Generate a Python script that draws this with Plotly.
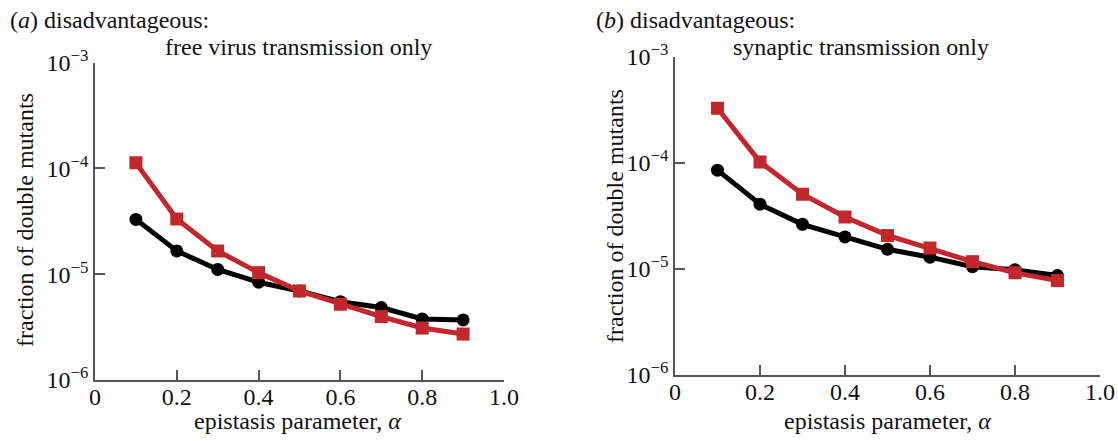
import plotly.graph_objects as go

alpha = [0.1, 0.2, 0.3, 0.4, 0.5, 0.6, 0.7, 0.8, 0.9]

a_black = [3.30e-5, 1.66e-5, 1.11e-5, 8.4e-6, 6.95e-6, 5.5e-6, 4.84e-6, 3.78e-6, 3.70e-6]
a_red = [1.13e-4, 3.33e-5, 1.66e-5, 1.035e-5, 6.95e-6, 5.2e-6, 3.98e-6, 3.1e-6, 2.72e-6]

b_black = [8.53e-5, 4.07e-5, 2.63e-5, 2.0e-5, 1.53e-5, 1.29e-5, 1.05e-5, 9.8e-6, 8.67e-6]
b_red = [3.27e-4, 1.02e-4, 5.06e-5, 3.08e-5, 2.07e-5, 1.57e-5, 1.17e-5, 9.2e-6, 7.76e-6]

x_tickvals = [0, 0.2, 0.4, 0.6, 0.8, 1.0]
x_ticktext = ["0", "0.2", "0.4", "0.6", "0.8", "1.0"]
y_tickvals = [1e-6, 1e-5, 1e-4, 1e-3]
y_ticktext = ["10<sup>−6</sup>", "10<sup>−5</sup>", "10<sup>−4</sup>", "10<sup>−3</sup>"]

RED = "#C1272D"
BLACK = "#000000"
AX = "#555555"
TXT = "#111111"
FONT = "Liberation Serif"
FS = 24

fig = go.Figure()

def add_series(xa, ya, black, red):
    fig.add_trace(go.Scatter(x=alpha, y=black, mode="lines+markers", xaxis=xa, yaxis=ya,
                             line=dict(color=BLACK, width=5),
                             marker=dict(symbol="circle", size=13, color=BLACK),
                             showlegend=False))
    fig.add_trace(go.Scatter(x=alpha, y=red, mode="lines+markers", xaxis=xa, yaxis=ya,
                             line=dict(color=RED, width=5),
                             marker=dict(symbol="square", size=13, color=RED),
                             showlegend=False))

add_series("x", "y", a_black, a_red)
add_series("x2", "y2", b_black, b_red)

W, H = 1118, 441

def xdom(l, r):
    return [l / W, r / W]

def ydom(top, bottom):
    return [(H - bottom) / H, (H - top) / H]

xcommon = dict(range=[0, 1.0], tickvals=x_tickvals, ticktext=x_ticktext,
               showline=True, linecolor=AX, linewidth=1.5, ticks="inside", ticklen=10,
               tickcolor=AX, tickwidth=1.5, showgrid=False, zeroline=False, automargin=False,
               ticklabelstandoff=-6,
               tickfont=dict(family=FONT, size=FS, color=TXT))
ycommon = dict(type="log", range=[-6, -3], tickvals=y_tickvals, ticktext=y_ticktext,
               showline=True, linecolor=AX, linewidth=1.5, ticks="inside", ticklen=10,
               tickcolor=AX, tickwidth=1.5, showgrid=False, zeroline=False, automargin=False,
               tickfont=dict(family=FONT, size=FS, color=TXT))

fig.update_layout(
    width=W, height=H,
    margin=dict(l=0, r=0, t=0, b=0),
    paper_bgcolor="white", plot_bgcolor="white",
    xaxis=dict(domain=xdom(95, 504), anchor="y", **xcommon),
    yaxis=dict(domain=ydom(62.7, 380), anchor="x", **ycommon),
    xaxis2=dict(domain=xdom(675, 1100), anchor="y2", **xcommon),
    yaxis2=dict(domain=ydom(56.7, 375), anchor="x2", **ycommon),
)

def ann(text, x, y, xanchor="left", angle=0):
    fig.add_annotation(text=text, x=x / W, y=(H - y) / H, xref="paper", yref="paper",
                       xanchor=xanchor, yanchor="middle", showarrow=False, textangle=angle,
                       font=dict(family=FONT, size=FS, color=TXT))

ann("(<i>a</i>) disadvantageous:", 8, 20)
ann("free virus transmission only", 298, 47, "center")
ann("(<i>b</i>) disadvantageous:", 594, 20)
ann("synaptic transmission only", 861, 47, "center")
ann("epistasis parameter, <i>α</i>", 297, 421, "center")
ann("epistasis parameter, <i>α</i>", 887, 421, "center")
ann("fraction of double mutants", 25, 220, "center", -90)
ann("fraction of double mutants", 615, 216, "center", -90)

fig.write_html("out.html", config={"displayModeBar": False},
               post_script="document.body.style.margin='0';document.body.style.overflow='hidden';")
